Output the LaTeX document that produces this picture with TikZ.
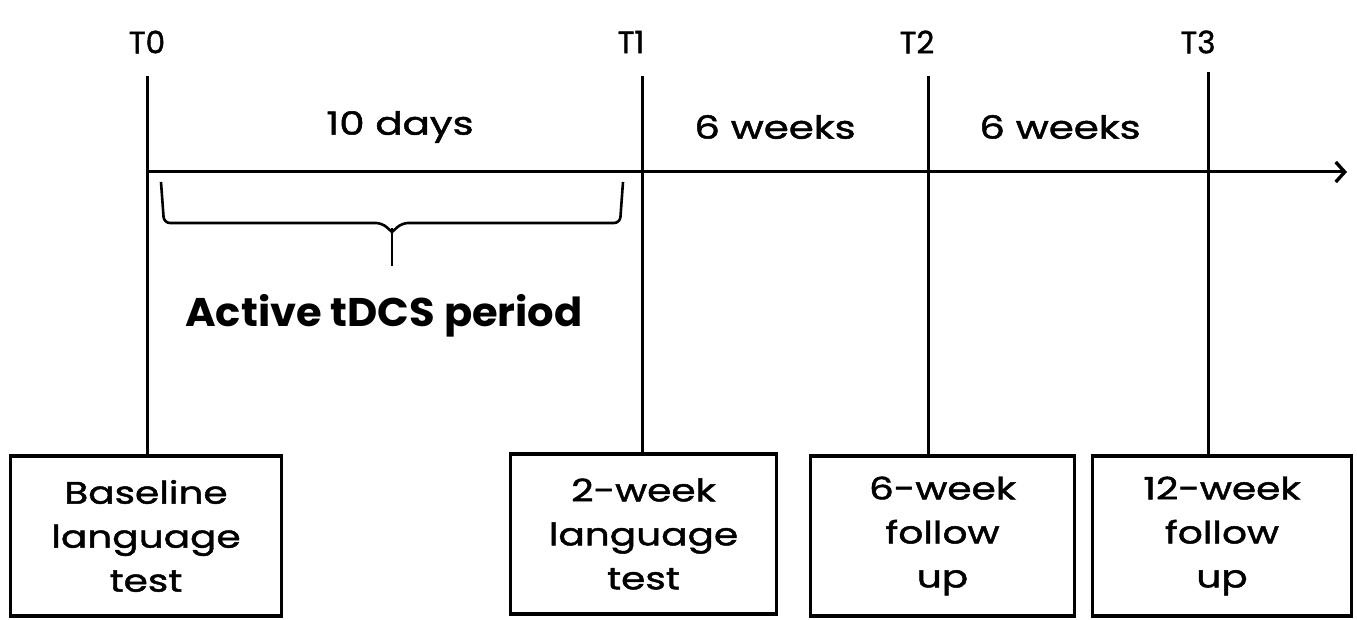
\documentclass[tikz,border=0pt]{standalone}
\usepackage{fontspec}
\setmainfont{Poppins}
\newfontfamily\cgfont{Poppins}[FakeStretch=1.26, FakeBold=1.5]
\newfontfamily\tfont{Poppins}[FakeBold=1.2]
\newfontfamily\cgbold{Poppins Bold}[FakeStretch=1.04]
\usetikzlibrary{arrows.meta}
\tikzset{
  ln/.style={line width=3pt, black},
  tlabel/.style={font=\tfont\fontsize{31}{36}\selectfont, inner sep=0pt},
  dur/.style={font=\cgfont\fontsize{32}{36}\selectfont, inner sep=0pt},
  box/.style={draw, line width=3.2pt, align=center, inner sep=0pt,
    font=\cgfont\fontsize{31}{44}\selectfont, minimum height=160pt},
}
\begin{document}
\begin{tikzpicture}[x=1pt,y=-1pt]
\useasboundingbox (0,0) rectangle (1357,620);
% time labels
\node[tlabel] (T0) at (147,42) {T0};
\node[tlabel] (T1) at (631,42) {T1};
\node[tlabel] (T2) at (917,42) {T2};
\node[tlabel] (T3) at (1198,42) {T3};
% line tops
\coordinate (t0) at (147,76);
\coordinate (t1) at (642,76);
\coordinate (t2) at (928,76);
\coordinate (t3) at (1208,72);
% boxes
\node[box, minimum width=271pt] (b0) at (146,536) {Baseline\\language\\test};
\node[box, minimum width=266pt] (b1) at (643.5,534) {2-week\\language\\test};
\node[box, minimum width=264pt] (b2) at (942.5,536) {6-week\\follow\\up};
\node[box, minimum width=259pt] (b3) at (1222,536) {12-week\\follow\\up};
% vertical lines
\draw[ln] (t0) -- (t0 |- b0.north);
\draw[ln] (t1) -- (t1 |- b1.north);
\draw[ln] (t2) -- (t2 |- b2.north);
\draw[ln] (t3) -- (t3 |- b3.north);
% axis
\coordinate (a0) at (147,172);
\coordinate (a1) at (1347,172);
\draw[ln, -{Straight Barb[length=9pt,width=20pt,line width=3.4pt]}] (a0) -- (a1);
% durations
\node[dur] (d0) at (400,127) {10 days};
\node[dur] (d1) at (775,127) {6 weeks};
\node[dur] (d2) at (1060,127) {6 weeks};
% brace
\coordinate (br0) at (161,182);
\coordinate (br1) at (623,182);
\coordinate (brt) at (392,266);
\draw[ln, line width=2.6pt, rounded corners=6pt] (br0) -- (164,223) -- (382,223) -- (392,232);
\draw[ln, line width=2.6pt, rounded corners=6pt] (br1) -- (620,223) -- (402,223) -- (392,232);
\draw[ln, line width=2.6pt] (392,228) -- (brt);
% active period
\node[font=\cgbold\fontsize{40}{44}\selectfont, inner sep=0pt] (act) at (384,316) {Active tDCS period};
\end{tikzpicture}
\end{document}
